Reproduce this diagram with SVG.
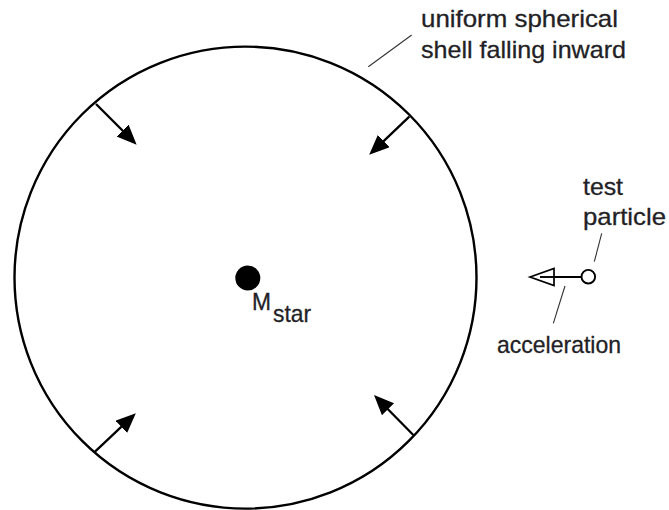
<svg xmlns="http://www.w3.org/2000/svg" width="669" height="510" viewBox="0 0 669 510">
<style>
  .lbl { font-family: "Liberation Sans", Arial, Helvetica, sans-serif; font-size: 24px; fill: #231f26; stroke: #231f26; stroke-width: 0.3; }
  .lead { stroke: #333; stroke-width: 1.1; fill: none; }
  .arr { stroke: #000; stroke-width: 2.3; fill: none; marker-end: url(#head); }
</style>
<defs>
  <marker id="head" markerUnits="userSpaceOnUse" markerWidth="22" markerHeight="18" refX="12" refY="8.5" orient="auto" viewBox="0 0 22 18">
    <path d="M0,0 L20,8.5 L0,17 z" fill="#000"/>
  </marker>
</defs>
<rect width="669" height="510" fill="#fff"/>
<g id="shell">
  <circle cx="245.5" cy="277.6" r="231" fill="none" stroke="#000" stroke-width="2.4"/>
</g>
<g id="star">
  <circle cx="247.8" cy="278" r="12.5" fill="#000"/>
  <text class="lbl" x="252" y="310" font-size="22" textLength="19" lengthAdjust="spacingAndGlyphs">M</text>
  <text class="lbl" x="273" y="322" font-size="18" textLength="38" lengthAdjust="spacingAndGlyphs">star</text>
</g>
<g id="shell-label">
  <text class="lbl" x="421" y="27" textLength="197" lengthAdjust="spacingAndGlyphs">uniform spherical</text>
  <text class="lbl" x="421" y="58" textLength="205" lengthAdjust="spacingAndGlyphs">shell falling inward</text>
</g>
<g id="test-particle">
  <circle cx="588.3" cy="276.7" r="6.8" fill="#fff" stroke="#000" stroke-width="1.9"/>
  <text class="lbl" x="583" y="195" textLength="40" lengthAdjust="spacingAndGlyphs">test</text>
  <text class="lbl" x="583" y="225" textLength="83" lengthAdjust="spacingAndGlyphs">particle</text>
</g>
<g id="acceleration">
  <line x1="540" y1="277" x2="581.5" y2="277" stroke="#000" stroke-width="1.9"/>
  <path d="M530,277 L554,268.5 L554,285.5 z" fill="#fff" stroke="#000" stroke-width="1.7" stroke-linejoin="miter"/>
  <line x1="540" y1="277" x2="554" y2="277" stroke="#000" stroke-width="1.9"/>
  <text class="lbl" x="497" y="353" textLength="124" lengthAdjust="spacingAndGlyphs">acceleration</text>
</g>
<g id="connectors">
  <line class="arr" x1="96" y1="104" x2="131" y2="139"/>
  <line class="arr" x1="409.3" y1="116.7" x2="375" y2="149.3"/>
  <line class="arr" x1="95" y1="451.7" x2="130" y2="418.7"/>
  <line class="arr" x1="413.3" y1="435" x2="379.6" y2="400.7"/>
  <line class="lead" x1="411.7" y1="35" x2="368.3" y2="66.7"/>
  <line class="lead" x1="601.7" y1="233.3" x2="594.3" y2="261.7"/>
  <line class="lead" x1="565" y1="286" x2="553.3" y2="323.3"/>
</g>
</svg>
